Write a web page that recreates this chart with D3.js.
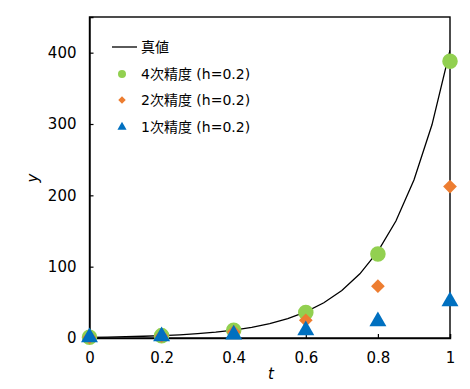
<!DOCTYPE html>
<html><head><meta charset="utf-8">
<script src="https://cdn.jsdelivr.net/npm/d3@7"></script>
<style>
body{margin:0;background:#fff;}
text{font-family:"DejaVu Sans","Noto Sans CJK JP",sans-serif;fill:#000;}
</style></head>
<body><svg id="c" width="470" height="389"></svg>
<script>
const tSteps = [0, 0.2, 0.4, 0.6, 0.8, 1];
const order4 = [1, 3.2944, 10.853, 35.755, 117.79, 388.05];
const order2 = [1, 2.92, 8.5264, 24.897, 72.70, 212.28];
const order1 = [1, 2.2, 4.84, 10.648, 23.426, 51.536];
const trueT = [0,0.05,0.1,0.15,0.2,0.25,0.3,0.35,0.4,0.45,0.5,0.55,0.6,0.65,0.7,0.75,0.8,0.85,0.9,0.95,1];
const trueY = [1,1.3499,1.8221,2.4596,3.3201,4.4817,6.0496,8.1662,11.023,14.880,20.086,27.113,36.598,49.402,66.686,90.017,121.51,164.02,221.41,298.87,403.43];
const xTicks = [0, 0.2, 0.4, 0.6, 0.8, 1];
const xTickLabels = ["0", "0.2", "0.4", "0.6", "0.8", "1"];
const yTicks = [0, 100, 200, 300, 400];
const legendLabels = ["真値", "4次精度 (h=0.2)", "2次精度 (h=0.2)", "1次精度 (h=0.2)"];
const colors = {o4: "#92D050", o2: "#ED7D31", o1: "#0070C0"};

const svg = d3.select("#c");
const L = 89.5, R = 450, T = 17, B = 338;
const x = d3.scaleLinear().domain([0, 1]).range([L, R]);
const y = d3.scaleLinear().domain([0, 450]).range([B, T]);

svg.append("clipPath").attr("id","clip").append("rect")
  .attr("x", L).attr("y", T).attr("width", R-L).attr("height", B-T);

svg.append("rect").attr("x", L).attr("y", T).attr("width", R-L).attr("height", B-T)
  .attr("fill","none").attr("stroke","#000").attr("stroke-width",1.4);

const xAxis = svg.append("g").attr("transform",`translate(0,${B})`)
  .call(d3.axisBottom(x).tickValues(xTicks).tickFormat((d,i)=>xTickLabels[i]).tickSize(-4).tickPadding(14));
const yAxis = svg.append("g").attr("transform",`translate(${L},0)`)
  .call(d3.axisLeft(y).tickValues(yTicks).tickSize(-4).tickPadding(13));
[xAxis, yAxis].forEach(g=>{
  g.select(".domain").attr("stroke","#000").attr("stroke-width",1.4);
  g.selectAll(".tick line").attr("stroke","#000").attr("stroke-width",1.2);
  g.selectAll(".tick text").style("font-size","15px").style("font-family","'DejaVu Sans',sans-serif").attr("fill","#000");
});

const line = d3.line().x((d,i)=>x(trueT[i])).y(d=>y(d));
svg.append("path").datum(trueY).attr("d", line).attr("fill","none")
  .attr("stroke","#000").attr("stroke-width",1.3).attr("clip-path","url(#clip)");

const sym = (type, size) => d3.symbol().type(type).size(size);
function pts(vals, type, size, color){
  svg.append("g").selectAll("path").data(vals).join("path")
    .attr("transform",(d,i)=>`translate(${x(tSteps[i])},${y(d)})`)
    .attr("d", sym(type,size)()).attr("fill", color);
}
pts(order4, d3.symbolCircle, 190, colors.o4);
pts(order2, d3.symbolDiamond2, 120, colors.o2);
pts(order1, d3.symbolTriangle, 125, colors.o1);

const lg = svg.append("g");
const rows = [47, 74, 100, 127];
lg.append("line").attr("x1",112).attr("x2",137).attr("y1",rows[0]).attr("y2",rows[0])
  .attr("stroke","#000").attr("stroke-width",1.3);
const lsym = [[d3.symbolCircle, 50, colors.o4],[d3.symbolDiamond2, 36, colors.o2],[d3.symbolTriangle, 36, colors.o1]];
lsym.forEach((s,i)=>{
  lg.append("path").attr("transform",`translate(122,${rows[i+1]})`).attr("d", sym(s[0],s[1])()).attr("fill", s[2]);
});
legendLabels.forEach((t,i)=>{
  lg.append("text").attr("x",141).attr("y",rows[i]).attr("dominant-baseline","central")
    .style("font-size","14px").text(t);
});

svg.append("text").attr("x",271).attr("y",379).attr("text-anchor","middle")
  .style("font-size","15px").style("font-style","italic").text("t");
svg.append("text").attr("transform","translate(33,178) rotate(-90)").attr("text-anchor","middle")
  .attr("dominant-baseline","central").style("font-size","15px").style("font-style","italic").text("y");
</script></body></html>
